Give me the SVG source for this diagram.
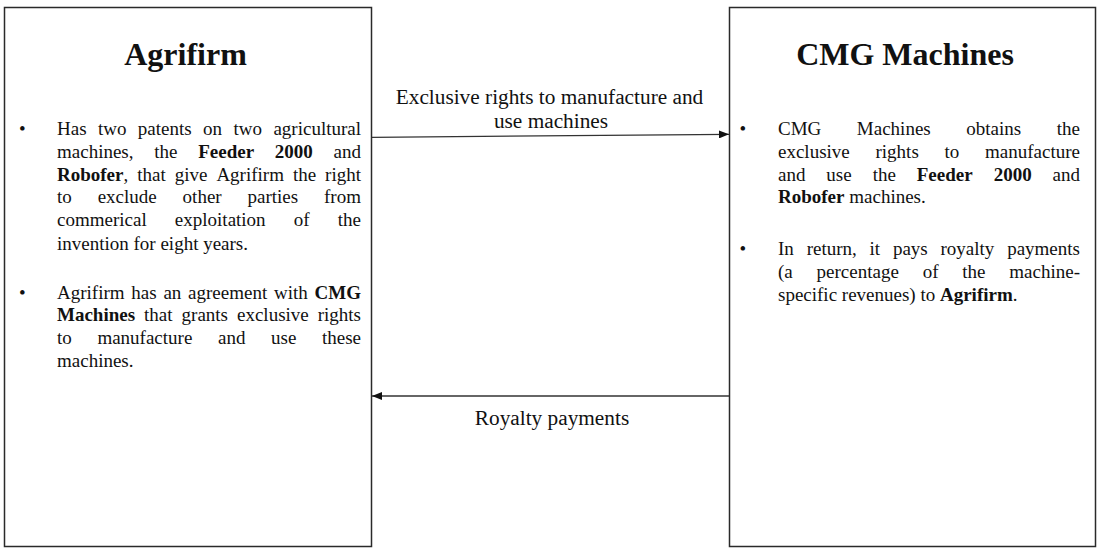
<svg xmlns="http://www.w3.org/2000/svg" width="1113" height="560" viewBox="0 0 1113 560">
<style>
.box{fill:#fff;stroke:#2a2a2a;stroke-width:1.5}
.t{font-family:"Liberation Serif","Times New Roman",serif;font-size:19px;fill:#111}
.lbl{font-family:"Liberation Serif","Times New Roman",serif;font-size:21.3px;fill:#111;text-anchor:middle}
.h{font-family:"Liberation Serif","Times New Roman",serif;font-size:32px;font-weight:bold;fill:#111;text-anchor:middle}
.b{font-weight:bold}
.ln{stroke:#333;stroke-width:1.3;fill:none}
</style>
<defs>
<marker id="ah" viewBox="0 0 10 8" refX="10" refY="4" markerWidth="10" markerHeight="8" markerUnits="userSpaceOnUse" orient="auto">
<path d="M0,0 L10,4 L0,8 Z" fill="#111"/>
</marker>
</defs>
<rect width="1113" height="560" fill="#fff"/>

<g id="agrifirm">
<rect class="box" x="4.5" y="7.5" width="367" height="539"/>
<text class="h" x="185.5" y="65">Agrifirm</text>
<text class="t" x="19" y="135">•</text>
<text class="t" y="135"><tspan x="57">Has</tspan><tspan x="97.96">two</tspan><tspan x="137.87">patents</tspan><tspan x="203.11">on</tspan><tspan x="233.52">two</tspan><tspan x="273.43">agricultural</tspan></text>
<text class="t" y="157.8"><tspan x="57">machines,</tspan><tspan x="154.24">the</tspan><tspan x="198.19" class="b">Feeder</tspan><tspan x="274.84" class="b">2000</tspan><tspan x="333.57">and</tspan></text>
<text class="t" y="180.6"><tspan x="57" class="b">Robofer</tspan><tspan x="123.48">,</tspan><tspan x="137.21">that</tspan><tspan x="174.69">give</tspan><tspan x="216.39">Agrifirm</tspan><tspan x="292.92">the</tspan><tspan x="325.12">right</tspan></text>
<text class="t" y="203.4"><tspan x="57">to</tspan><tspan x="97.65">exclude</tspan><tspan x="182.61">other</tspan><tspan x="247.53">parties</tspan><tspan x="324.05">from</tspan></text>
<text class="t" y="226.2"><tspan x="57">commerical</tspan><tspan x="174.86">exploitation</tspan><tspan x="293.8">of</tspan><tspan x="337.79">the</tspan></text>
<text class="t" x="57" y="249.5">invention for eight years.</text>
<text class="t" x="19" y="298.5">•</text>
<text class="t" y="298.5"><tspan x="57">Agrifirm</tspan><tspan x="131.31">has</tspan><tspan x="163.4">an</tspan><tspan x="188.1">agreement</tspan><tspan x="274">with</tspan><tspan x="314.54" class="b">CMG</tspan></text>
<text class="t" y="321.3"><tspan x="57" class="b">Machines</tspan><tspan x="144.09">that</tspan><tspan x="181.57">grants</tspan><tspan x="236.99">exclusive</tspan><tspan x="317.73">rights</tspan></text>
<text class="t" y="344.1"><tspan x="57">to</tspan><tspan x="97.39">manufacture</tspan><tspan x="217.96">and</tspan><tspan x="271.01">use</tspan><tspan x="321.95">these</tspan></text>
<text class="t" x="57" y="366.9">machines.</text>
</g>

<g id="cmg">
<rect class="box" x="729.5" y="7.5" width="366" height="539"/>
<text class="h" x="905" y="65">CMG Machines</text>
<text class="t" x="739.5" y="135">•</text>
<text class="t" y="135"><tspan x="778">CMG</tspan><tspan x="856.86">Machines</tspan><tspan x="966.31">obtains</tspan><tspan x="1056.78">the</tspan></text>
<text class="t" y="157.8"><tspan x="778">exclusive</tspan><tspan x="875.5">rights</tspan><tspan x="944.52">to</tspan><tspan x="985.04">manufacture</tspan></text>
<text class="t" y="180.6"><tspan x="778">and</tspan><tspan x="826.37">use</tspan><tspan x="872.63">the</tspan><tspan x="916.78" class="b">Feeder</tspan><tspan x="993.63" class="b">2000</tspan><tspan x="1052.56">and</tspan></text>
<text class="t" x="778" y="203.4"><tspan class="b">Robofer</tspan> machines.</text>
<text class="t" x="739.5" y="255">•</text>
<text class="t" y="255"><tspan x="778">In</tspan><tspan x="806.63">return,</tspan><tspan x="869.55">it</tspan><tspan x="892.91">pays</tspan><tspan x="940.54">royalty</tspan><tspan x="1007.17">payments</tspan></text>
<text class="t" y="277.8"><tspan x="778">(a</tspan><tspan x="816.56">percentage</tspan><tspan x="922.65">of</tspan><tspan x="962.28">the</tspan><tspan x="1009.3">machine-</tspan></text>
<text class="t" x="778" y="300.6">specific revenues) to <tspan class="b">Agrifirm</tspan>.</text>
</g>

<g id="connectors">
<line class="ln" x1="372" y1="137.3" x2="729" y2="134.3" marker-end="url(#ah)"/>
<text class="lbl" x="549.5" y="104">Exclusive rights to manufacture and</text>
<text class="lbl" x="551" y="127.5">use machines</text>
<line class="ln" x1="729" y1="396" x2="372" y2="396" marker-end="url(#ah)"/>
<text class="lbl" x="552" y="425">Royalty payments</text>
</g>
</svg>
